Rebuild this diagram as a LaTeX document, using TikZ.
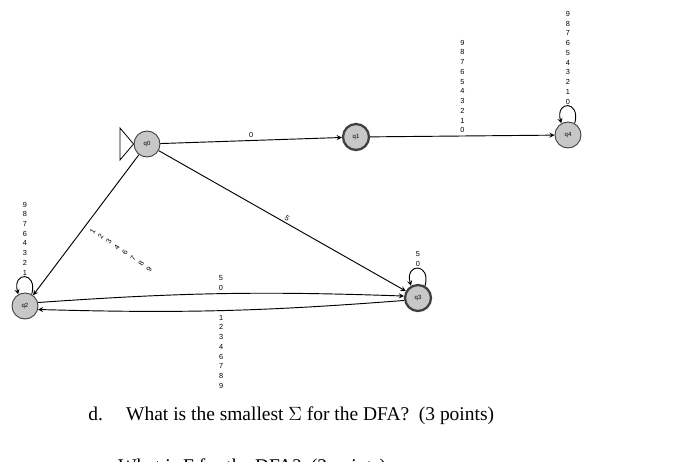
\documentclass[tikz,border=0pt]{standalone}
\usepackage{fontspec}
\setmainfont{Liberation Serif}
\newfontfamily\lsans{Liberation Sans}
\begin{document}
\begin{tikzpicture}[x=0.75pt,y=-0.75pt,
  st/.style={circle,draw=black!75,fill=black!22,minimum size=19.5pt,inner sep=0pt,font=\lsans\fontsize{4.5}{5}\selectfont,line width=0.7pt},
  acc/.style={st,line width=1.7pt},
  lab/.style={font=\lsans\fontsize{5.5}{7.3}\selectfont,align=center,inner sep=0pt},
  ed/.style={->,>=stealth,line width=0.7pt}]
\useasboundingbox (0,0) rectangle (700,461);
\node[st] (q0) at (147,144) {q0};
\node[acc] (q1) at (356,137) {q1};
\node[st] (q4) at (568,135) {q4};
\node[st] (q2) at (25,306) {q2};
\node[acc] (q3) at (418,298) {q3};
\coordinate (ia) at (120,128);
\coordinate (ib) at (120,160);
\draw[line width=0.6pt] (ia) -- (q0.west) -- (ib) -- cycle;
\draw[ed] (q0) -- (q1) node[lab,pos=0.5,above=2pt] {0};
\draw[ed] (q1) -- (q4) node[lab,pos=0.5,above=2pt] {9\\8\\7\\6\\5\\4\\3\\2\\1\\0};
\draw[ed] (q4.60) .. controls +(-75:24) and +(-105:24) .. (q4.120) node[lab,pos=0.5,above=1pt] {9\\8\\7\\6\\5\\4\\3\\2\\1\\0};
\draw[ed] (q0) -- (q3) node[lab,pos=0.5,above right=1pt,rotate=-30] {5};
\draw[ed] (q0) -- (q2);
\node[lab,rotate=56] (l02) at (121,250) {1\\2\\3\\4\\6\\7\\8\\9};
\draw[ed] (q2.60) .. controls +(-75:24) and +(-105:24) .. (q2.120) node[lab,pos=0.5,above=1pt] {9\\8\\7\\6\\4\\3\\2\\1};
\draw[ed] (q3.60) .. controls +(-75:24) and +(-105:24) .. (q3.120) node[lab,pos=0.5,above=1pt] {5\\0};
\draw[ed] (q2.15) to[bend left=3] node[lab,above=2pt] {5\\0} (q3.172);
\draw[ed] (q3.190) to[bend left=3] node[lab,below=3pt] {1\\2\\3\\4\\6\\7\\8\\9} (q2.345);
\node[anchor=west,inner sep=0pt,font=\fontsize{14.6}{17}\selectfont] (qd) at (88,416) {d.\hspace{1.2em}What is the smallest $\Sigma$ for the DFA?\ \ (3 points)};
\begin{scope}
\clip (0,0) rectangle (700,461);
\node[anchor=west,inner sep=0pt,font=\fontsize{14.6}{17}\selectfont] (qe) at (118,468) {What is F for the DFA?\ \ (2 points)};
\end{scope}
\end{tikzpicture}
\end{document}
